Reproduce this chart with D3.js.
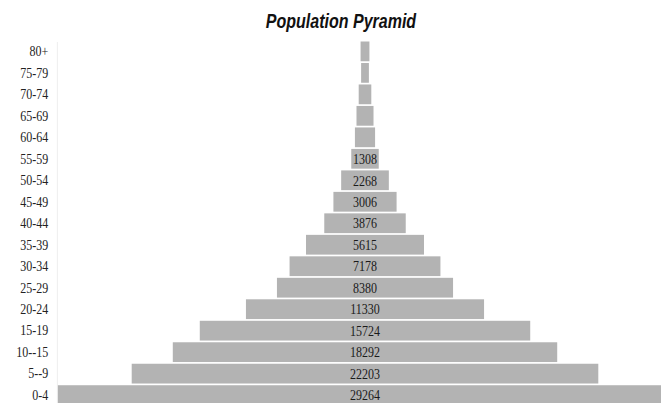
<!DOCTYPE html>
<html>
<head>
<meta charset="utf-8">
<script src="https://cdn.jsdelivr.net/npm/d3@7"></script>
<style>
  body { margin: 0; background: #fff; }
  svg { display: block; }
</style>
</head>
<body>
<div id="chart"></div>
<script>
const ageGroups = ['80+', '75-79', '70-74', '65-69', '60-64', '55-59', '50-54', '45-49',
  '40-44', '35-39', '30-34', '25-29', '20-24', '15-19', '10--15', '5--9', '0-4'];
const population = [420, 370, 600, 810, 960, 1308, 2268, 3006,
  3876, 5615, 7178, 8380, 11330, 15724, 18292, 22203, 29264];

// the original was drawn wider and squeezed into the window,
// so draw in a wider viewBox and let it stretch
const width = 661, height = 403;
const vbWidth = 826;
const k = vbWidth / width;
const center = 365 * k;
const labelMin = 1000;

const svg = d3.select('#chart').append('svg')
  .attr('width', width)
  .attr('height', height)
  .attr('viewBox', `0 0 ${vbWidth} ${height}`)
  .attr('preserveAspectRatio', 'none');

// title
svg.append('text')
  .attr('x', 341 * k)
  .attr('y', 28)
  .attr('text-anchor', 'middle')
  .style('font-family', '"Liberation Sans", Arial, sans-serif')
  .style('font-weight', 'bold')
  .style('font-style', 'italic')
  .style('font-size', '20px')
  .attr('fill', '#111')
  .text('Population Pyramid');

const maxV = d3.max(population);
const x = d3.scaleLinear()
  .domain([-maxV / 2, maxV / 2])
  .range([center - 307.5 * k, center + 307.5 * k]);

const y = d3.scaleBand()
  .domain(ageGroups)
  .range([41.5, 405])
  .paddingInner(0.08);

const data = ageGroups.map((g, i) => ({ group: g, value: population[i] }));

// bars
svg.append('g').selectAll('rect')
  .data(data)
  .enter()
  .append('rect')
  .attr('x', d => x(-d.value / 2))
  .attr('y', d => y(d.group))
  .attr('width', d => x(d.value / 2) - x(-d.value / 2))
  .attr('height', y.bandwidth())
  .attr('fill', '#b3b3b3');

// values inside the bars
svg.append('g').selectAll('text')
  .data(data.filter(d => d.value >= labelMin))
  .enter()
  .append('text')
  .attr('x', x(0))
  .attr('y', d => y(d.group) + y.bandwidth() / 2)
  .attr('dy', '0.35em')
  .attr('text-anchor', 'middle')
  .style('font-family', '"Liberation Serif", "Times New Roman", serif')
  .style('font-size', '15px')
  .attr('fill', '#1a1a1a')
  .text(d => d.value);

// age axis
const yAxis = svg.append('g')
  .attr('transform', `translate(${57 * k},0)`)
  .call(d3.axisLeft(y).tickSize(0).tickPadding(11));

yAxis.select('.domain').attr('stroke', '#ececec');
yAxis.selectAll('text')
  .style('font-family', '"Liberation Serif", "Times New Roman", serif')
  .style('font-size', '15px')
  .attr('fill', '#222');
</script>
</body>
</html>
